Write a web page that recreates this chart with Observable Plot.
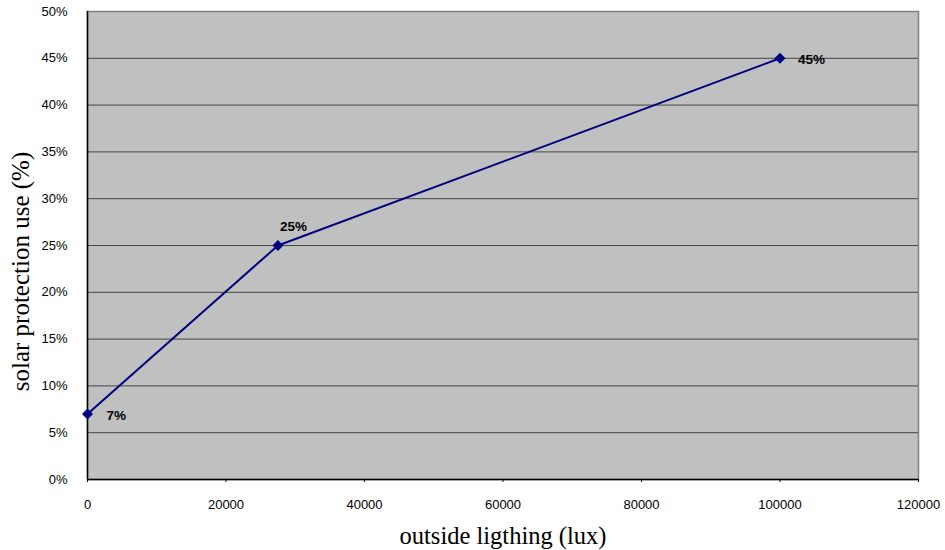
<!DOCTYPE html>
<html>
<head>
<meta charset="utf-8">
<script src="https://cdn.jsdelivr.net/npm/d3@7"></script>
<script src="https://cdn.jsdelivr.net/npm/@observablehq/plot@0.6"></script>
<style>
  html, body { margin: 0; padding: 0; background: #fff; }
  #chart svg { font-family: "Liberation Sans", Arial, sans-serif; }
</style>
</head>
<body>
<div id="chart"></div>
<script>
// Outside illuminance (lux) versus share of solar protection in use
const lux = [0, 27500, 100000];
const use = [0.07, 0.25, 0.45];
const valueLabels = ["7%", "25%", "45%"];
const xTicks = [0, 20000, 40000, 60000, 80000, 100000, 120000];
const yTicks = [0, 0.05, 0.10, 0.15, 0.20, 0.25, 0.30, 0.35, 0.40, 0.45, 0.50];
const xTitle = "outside ligthing (lux)";
const yTitle = "solar protection use (%)";

const data = lux.map((x, i) => ({x, y: use[i], label: valueLabels[i]}));

// per-point label placement around each marker
const labelOffsets = [[19, 2], [2, -19], [18, 1]];
const labelMarks = data.map((d, i) =>
  Plot.text([d], {
    x: "x", y: "y", text: "label",
    textAnchor: "start",
    dx: labelOffsets[i][0], dy: labelOffsets[i][1],
    fontWeight: "bold", fontSize: 13.5, fill: "#000"
  })
);

const serif = "'Liberation Serif', 'Times New Roman', serif";

const chart = Plot.plot({
  width: 945,
  height: 550,
  marginLeft: 87,
  marginRight: 27,
  marginTop: 11,
  marginBottom: 71,
  x: {domain: [0, 120000]},
  y: {domain: [0, 0.5]},
  marks: [
    Plot.frame({fill: "#c0c0c0", stroke: "#808080", strokeWidth: 1.5}),
    Plot.ruleY(yTicks.filter(v => v > 0 && v < 0.5), {stroke: "#444", strokeWidth: 1}),
    Plot.ruleX([0], {stroke: "#000", strokeWidth: 1.5}),
    Plot.ruleY([0], {stroke: "#000", strokeWidth: 1.5}),
    Plot.axisY({ticks: yTicks, tickFormat: d3.format(".0%"), tickSize: 0, tickPadding: 20, fontSize: 13, label: null, fill: "#000"}),
    Plot.axisX({ticks: xTicks, tickFormat: d3.format("d"), tickSize: 3, tickPadding: 17, fontSize: 13, label: null, fill: "#000"}),
    Plot.line(data, {x: "x", y: "y", stroke: "#000080", strokeWidth: 2}),
    Plot.dot(data, {x: "x", y: "y", symbol: "diamond2", r: 4, fill: "#000080", stroke: "#000080"}),
    ...labelMarks,
    Plot.text([xTitle], {frameAnchor: "bottom", textAnchor: "middle", lineAnchor: "middle", dy: 57, fontSize: 24.5, fontFamily: serif, fill: "#000"}),
    Plot.text([yTitle], {frameAnchor: "left", textAnchor: "middle", lineAnchor: "middle", dx: -67, dy: 26, rotate: -90, fontSize: 25, fontFamily: serif, fill: "#000", style: {letterSpacing: "0.8px"}})
  ]
});
document.getElementById("chart").appendChild(chart);
</script>
</body>
</html>
